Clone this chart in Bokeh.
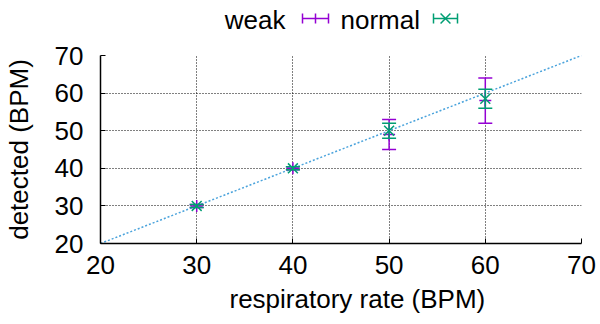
from bokeh.plotting import figure
from bokeh.models import Range1d, FixedTicker, Title
from bokeh.layouts import column
from bokeh.embed import file_html
from bokeh.resources import INLINE
from bokeh.core.properties import value

# ---- data ----
rates = [30, 40, 50, 60]
weak_y = [30, 40, 49, 58]
weak_lo = [29.6, 39.6, 45, 52]
weak_hi = [30.4, 40.4, 53, 64]
normal_y = [30, 40, 50, 58.5]
normal_lo = [29.6, 39.6, 48, 56]
normal_hi = [30.4, 40.4, 52, 61]
ref_x = [20, 70]
ref_y = [20, 70]
ticks = [20, 30, 40, 50, 60, 70]
series_names = ["weak", "normal"]
x_label = "respiratory rate (BPM)"
y_label = "detected (BPM)"

FONT = "Liberation Sans"
FS = "26px"
PURPLE = "#9400d3"
GREEN = "#009e73"
BLUE = "#4aa3dc"

BL, BR = 100, 19

# ---- main plot ----
p = figure(width=600, height=284, x_range=Range1d(20, 70), y_range=Range1d(20, 70),
           output_backend="svg", toolbar_location=None, title=None,
           min_border_left=BL, min_border_right=BR, min_border_top=15, min_border_bottom=81)
p.outline_line_color = None

for ax in (p.xaxis[0], p.yaxis[0]):
    ax.ticker = FixedTicker(ticks=ticks)
    ax.major_tick_in = 5
    ax.major_tick_out = 0
    ax.minor_tick_in = 0
    ax.minor_tick_out = 0
    ax.axis_line_width = 1.5
    ax.axis_line_color = "black"
    ax.major_tick_line_color = "black"
    ax.major_label_text_font = FONT
    ax.major_label_text_font_size = FS
    ax.major_label_text_color = "black"

p.xaxis.major_label_standoff = 12
p.yaxis.major_label_standoff = 17
p.yaxis.axis_label = y_label
p.yaxis.axis_label_text_font = FONT
p.yaxis.axis_label_text_font_size = FS
p.yaxis.axis_label_text_font_style = "normal"
p.yaxis.axis_label_text_color = "black"
p.yaxis.axis_label_standoff = 18

p.add_layout(Title(text=x_label, align="left", offset=129, text_font=FONT,
                   text_font_size=FS, text_font_style="normal", text_color="black"), "below")

for g in (p.xgrid[0], p.ygrid[0]):
    g.ticker = FixedTicker(ticks=ticks)
    g.grid_line_color = "black"
    g.grid_line_alpha = 1.0
    g.grid_line_dash = "1 2"
    g.grid_line_width = 1

# reference line y = x
p.line(ref_x, ref_y, line_color=BLUE, line_dash="2 2", line_width=1.5)

# weak series
p.segment(x0=rates, y0=weak_lo, x1=rates, y1=weak_hi, line_color=PURPLE, line_width=1.5)
p.scatter(rates, weak_lo, marker="dash", size=14, line_color=PURPLE, line_width=1.5)
p.scatter(rates, weak_hi, marker="dash", size=14, line_color=PURPLE, line_width=1.5)
p.scatter(rates, weak_y, marker="cross", size=12, line_color=PURPLE, line_width=1.5)

# normal series
p.segment(x0=rates, y0=normal_lo, x1=rates, y1=normal_hi, line_color=GREEN, line_width=1.5)
p.scatter(rates, normal_lo, marker="dash", size=14, line_color=GREEN, line_width=1.5)
p.scatter(rates, normal_hi, marker="dash", size=14, line_color=GREEN, line_width=1.5)
p.scatter(rates, normal_y, marker="x", size=14, line_color=GREEN, line_width=1.5)

# ---- legend strip (frame aligned with main frame; data units = page pixels) ----
lg = figure(width=600, height=40, x_range=Range1d(BL, 600 - BR), y_range=Range1d(40, 0),
            output_backend="svg", toolbar_location=None, title=None,
            min_border_left=BL, min_border_right=BR, min_border_top=0, min_border_bottom=0,
            x_axis_type=None, y_axis_type=None)
lg.outline_line_color = None
lg.grid.visible = False

lg.text(x=[285], y=[19], text=[series_names[0]], text_align="right", text_baseline="middle",
        text_font=value(FONT), text_font_size=FS, text_color="black")
lg.text(x=[340], y=[19], text=[series_names[1]], text_align="left", text_baseline="middle",
        text_font=value(FONT), text_font_size=FS, text_color="black")

# weak key symbol
lg.segment(x0=[302], y0=[18], x1=[328], y1=[18], line_color=PURPLE, line_width=1.5)
lg.segment(x0=[302, 328, 315], y0=[13, 13, 13], x1=[302, 328, 315], y1=[23, 23, 23],
           line_color=PURPLE, line_width=1.5)
# normal key symbol
lg.segment(x0=[433], y0=[18], x1=[457], y1=[18], line_color=GREEN, line_width=1.5)
lg.segment(x0=[433, 457], y0=[13, 13], x1=[433, 457], y1=[23, 23],
           line_color=GREEN, line_width=1.5)
lg.scatter([445], [18], marker="x", size=14, line_color=GREEN, line_width=1.5)

layout = column(lg, p)
open("out.html", "w").write(file_html(layout, INLINE))
